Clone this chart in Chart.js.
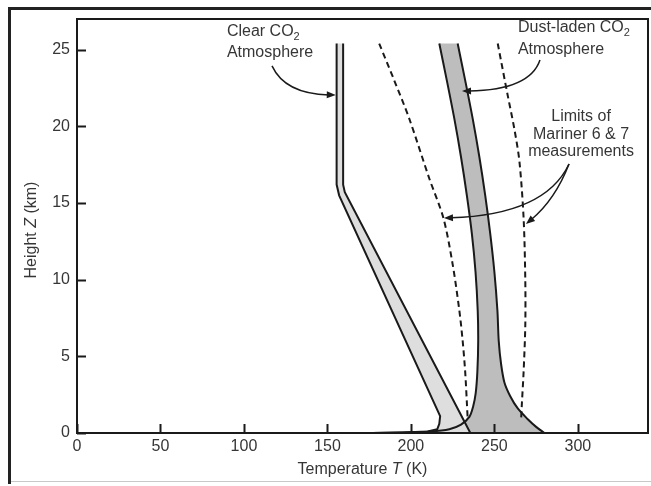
<!DOCTYPE html>
<html>
<head>
<meta charset="utf-8">
<script src="https://cdn.jsdelivr.net/npm/chart.js@4.4.1/dist/chart.umd.min.js"></script>
<style>
  html, body { margin: 0; background: #fff; }
  canvas { display: block; }
</style>
</head>
<body>
<canvas id="chart" width="651" height="486"></canvas>
<script>
// axis ticks
const tempTicks = [0, 50, 100, 150, 200, 250, 300];
const heightTicks = [0, 5, 10, 15, 20, 25];

// clear CO2 atmosphere band (temperature K, height km)
const clearLeftT = [155.5, 155.5, 157, 217.5, 217, 215.8, 210, 195, 177];
const clearLeftZ = [25.4, 16.2, 15.5, 1.1, 0.6, 0.25, 0.1, 0.04, 0];
const clearRightT = [159.4, 159.4, 160.4, 235.6];
const clearRightZ = [25.4, 16.2, 15.7, 0];

// dust-laden CO2 atmosphere band
const dustLeftT = [217, 221.5, 226, 230, 233.5, 236.5, 238.7, 240, 240.3, 239.8, 238.8, 237.2, 235, 230, 223, 212, 195, 177];
const dustLeftZ = [25.4, 23, 20.5, 18, 15.5, 13, 10.5, 8, 6, 4, 2.6, 1.7, 1.05, 0.55, 0.25, 0.1, 0.04, 0];
const dustRightT = [228, 232.5, 237, 241, 244.5, 247.5, 250, 251.8, 252.6, 254, 256, 259.5, 264, 270, 275, 280];
const dustRightZ = [25.4, 23, 20.5, 18, 15.5, 13, 10.5, 8, 6, 4.5, 3.3, 2.4, 1.6, 0.9, 0.4, 0];

// limits of Mariner 6 & 7 measurements
const marinerLeftT = [181, 190, 199, 211, 219.5, 225, 229, 231, 232.5, 233.5, 234];
const marinerLeftZ = [25.4, 23, 20.5, 16.6, 14, 11, 8, 6, 4, 2, 0.9];
const marinerRightT = [252, 258, 262, 265, 267.5, 268.5, 268.5, 267.5, 266.5, 266];
const marinerRightZ = [25.4, 22, 19.8, 17.7, 14, 10, 7, 4, 2, 0.9];

const INK = '#1a1a1a';
const TEXT = '#363636';
const FAMILY = "'Liberation Sans', Arial, sans-serif";
const SIZE = 16;

const toPoints = (ts, zs) => ts.map((t, i) => ({ x: t, y: zs[i] }));

const clearLeft = toPoints(clearLeftT, clearLeftZ);
const clearRight = toPoints(clearRightT, clearRightZ);
const dustLeft = toPoints(dustLeftT, dustLeftZ);
const dustRight = toPoints(dustRightT, dustRightZ);
const clearBand = clearLeft.concat(clearRight.slice().reverse());
const dustBand = dustLeft.concat(dustRight.slice().reverse());

// labels and arrows, placed in data units (T, Z)
const notes = [
    { x: 89.8, y: 26.15, align: 'left', runs: [{ t: 'Clear CO' }, { t: '2', sub: true }] },
    { x: 89.8, y: 24.78, align: 'left', runs: [{ t: 'Atmosphere' }] },
    { x: 264.1, y: 26.41, align: 'left', runs: [{ t: 'Dust-laden CO' }, { t: '2', sub: true }] },
    { x: 264.1, y: 24.98, align: 'left', runs: [{ t: 'Atmosphere' }] },
    { x: 301.9, y: 20.61, align: 'center', runs: [{ t: 'Limits of' }] },
    { x: 301.9, y: 19.43, align: 'center', runs: [{ t: 'Mariner 6 & 7' }] },
    { x: 301.9, y: 18.32, align: 'center', runs: [{ t: 'measurements' }] }
];
const arrows = [
    { s: [116.8, 23.94], c: [124.6, 22.11], e: [155, 22.04] },
    { s: [277.3, 24.33], c: [271.3, 22.37], e: [230.6, 22.3] },
    { s: [294.7, 17.54], c: [280.3, 14.22], e: [219.8, 14.02] },
    { s: [294.7, 17.54], c: [286.3, 15.2], e: [268.9, 13.63] }
];

const fontFor = (r, size) => `${r.it ? 'italic ' : ''}${r.sub ? 11 : size}px ${FAMILY}`;

const drawRuns = (ctx, runs, x, y, align, size) => {
    let total = 0;
    runs.forEach(r => {
        ctx.font = fontFor(r, size);
        r.w = ctx.measureText(r.t).width;
        total += r.w;
    });
    let cx = align === 'center' ? x - total / 2 : x;
    ctx.textAlign = 'left';
    ctx.textBaseline = 'middle';
    runs.forEach(r => {
        ctx.font = fontFor(r, size);
        ctx.fillText(r.t, cx, y + (r.sub ? 5 : 0));
        cx += r.w;
    });
};

const line = (label, data, opts) => Object.assign({
    label, data, showLine: true, pointRadius: 0, borderColor: INK,
    borderWidth: 2, fill: false, tension: 0
}, opts);

const band = (label, data, color, tension) => ({
    label, data, showLine: true, pointRadius: 0, borderWidth: 0,
    borderColor: 'rgba(0,0,0,0)', backgroundColor: color, fill: 'shape', tension
});

const decor = {
    id: 'decor',
    beforeDraw(chart) {
        const ctx = chart.ctx;
        ctx.save();
        ctx.fillStyle = '#fff';
        ctx.fillRect(0, 0, chart.width, chart.height);
        // outer figure frame
        ctx.strokeStyle = '#222';
        ctx.lineWidth = 3;
        ctx.beginPath();
        ctx.moveTo(9.5, 484);
        ctx.lineTo(9.5, 8.5);
        ctx.lineTo(chart.width, 8.5);
        ctx.stroke();
        ctx.strokeStyle = '#c8c8c8';
        ctx.lineWidth = 1;
        ctx.beginPath();
        ctx.moveTo(11, 481.5);
        ctx.lineTo(chart.width, 481.5);
        ctx.stroke();
        ctx.restore();
    },
    afterDraw(chart) {
        const ctx = chart.ctx;
        const a = chart.chartArea;
        const xs = chart.scales.x;
        const ys = chart.scales.y;
        ctx.save();
        ctx.strokeStyle = INK;
        ctx.lineWidth = 2;
        ctx.strokeRect(a.left, a.top, a.right - a.left, a.bottom - a.top);

        // inward tick marks
        ctx.beginPath();
        tempTicks.forEach(v => {
            const px = Math.round(xs.getPixelForValue(v)) + 0.5;
            ctx.moveTo(px, a.bottom);
            ctx.lineTo(px, a.bottom - 9);
        });
        heightTicks.forEach(v => {
            const py = Math.round(ys.getPixelForValue(v)) + 0.5;
            ctx.moveTo(a.left, py);
            ctx.lineTo(a.left + 9, py);
        });
        ctx.stroke();

        // axis titles
        ctx.fillStyle = TEXT;
        drawRuns(ctx, [{ t: 'Temperature ' }, { t: 'T', it: true }, { t: ' (K)' }],
            (a.left + a.right) / 2, 470, 'center', SIZE);
        ctx.save();
        ctx.translate(32, (a.top + a.bottom) / 2 + 4);
        ctx.rotate(-Math.PI / 2);
        drawRuns(ctx, [{ t: 'Height ' }, { t: 'Z', it: true }, { t: ' (km)' }], 0, 0, 'center', SIZE);
        ctx.restore();

        // annotations
        notes.forEach(n => {
            drawRuns(ctx, n.runs, xs.getPixelForValue(n.x), ys.getPixelForValue(n.y), n.align, SIZE);
        });

        ctx.strokeStyle = INK;
        ctx.fillStyle = INK;
        ctx.lineWidth = 1.5;
        arrows.forEach(ar => {
            const s = [xs.getPixelForValue(ar.s[0]), ys.getPixelForValue(ar.s[1])];
            const c = [xs.getPixelForValue(ar.c[0]), ys.getPixelForValue(ar.c[1])];
            const e = [xs.getPixelForValue(ar.e[0]), ys.getPixelForValue(ar.e[1])];
            const ang = Math.atan2(e[1] - c[1], e[0] - c[0]);
            const back = [e[0] - 7 * Math.cos(ang), e[1] - 7 * Math.sin(ang)];
            ctx.beginPath();
            ctx.moveTo(s[0], s[1]);
            ctx.quadraticCurveTo(c[0], c[1], back[0], back[1]);
            ctx.stroke();
            ctx.beginPath();
            ctx.moveTo(e[0], e[1]);
            ctx.lineTo(e[0] - 9 * Math.cos(ang) + 3.5 * Math.sin(ang), e[1] - 9 * Math.sin(ang) - 3.5 * Math.cos(ang));
            ctx.lineTo(e[0] - 9 * Math.cos(ang) - 3.5 * Math.sin(ang), e[1] - 9 * Math.sin(ang) + 3.5 * Math.cos(ang));
            ctx.closePath();
            ctx.fill();
        });
        ctx.restore();
    }
};

Chart.defaults.font.family = FAMILY;

new Chart(document.getElementById('chart').getContext('2d'), {
    type: 'scatter',
    data: {
        datasets: [
            line('Mariner lower limit', toPoints(marinerLeftT, marinerLeftZ), { borderDash: [6, 4], tension: 0.3 }),
            line('Mariner upper limit', toPoints(marinerRightT, marinerRightZ), { borderDash: [6, 4], tension: 0.3 }),
            line('Clear left', clearLeft),
            line('Clear right', clearRight),
            line('Dust left', dustLeft, { tension: 0.3 }),
            line('Dust right', dustRight, { tension: 0.3 }),
            band('Clear band', clearBand, '#dedede', 0),
            band('Dust band', dustBand, '#bdbdbd', 0.3)
        ]
    },
    options: {
        responsive: false,
        animation: false,
        events: [],
        layout: { padding: { top: 19, right: 3, left: 0, bottom: 0 } },
        plugins: {
            legend: { display: false },
            tooltip: { enabled: false }
        },
        scales: {
            x: {
                type: 'linear',
                min: 0,
                max: 342,
                grid: { display: false, drawTicks: false },
                border: { display: false },
                afterBuildTicks: s => { s.ticks = tempTicks.map(v => ({ value: v })); },
                afterFit: s => { s.height = 53; },
                ticks: { padding: 4, color: TEXT, font: { size: SIZE }, maxRotation: 0 }
            },
            y: {
                type: 'linear',
                min: 0,
                max: 27,
                grid: { display: false, drawTicks: false },
                border: { display: false },
                afterBuildTicks: s => { s.ticks = heightTicks.map(v => ({ value: v })); },
                afterFit: s => { s.width = 77; },
                ticks: { padding: 7, color: TEXT, font: { size: SIZE } }
            }
        }
    },
    plugins: [decor]
});
</script>
</body>
</html>
